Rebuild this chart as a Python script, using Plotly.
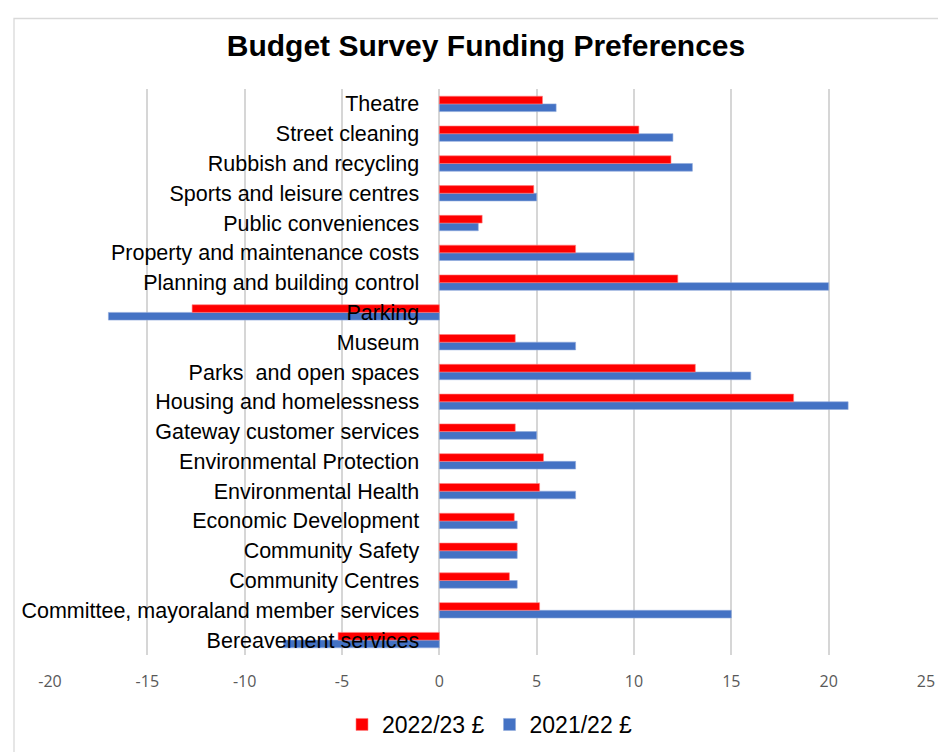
import plotly.graph_objects as go

categories = [
    "Bereavement services",
    "Committee, mayoraland member services",
    "Community Centres",
    "Community Safety",
    "Economic Development",
    "Environmental Health",
    "Environmental Protection",
    "Gateway customer services",
    "Housing and homelessness",
    "Parks  and open spaces",
    "Museum",
    "Parking",
    "Planning and building control",
    "Property and maintenance costs",
    "Public conveniences",
    "Sports and leisure centres",
    "Rubbish and recycling",
    "Street cleaning",
    "Theatre",
]
values_2022_23 = [-5.2, 5.15, 3.6, 4.0, 3.85, 5.15, 5.35, 3.9, 18.2, 13.15,
                  3.9, -12.7, 12.25, 7.0, 2.2, 4.85, 11.9, 10.25, 5.3]
values_2021_22 = [-8, 15, 4, 4, 4, 7, 7, 5, 21, 16,
                  7, -17, 20, 10, 2, 5, 13, 12, 6]
x_ticks = [-20, -15, -10, -5, 0, 5, 10, 15, 20, 25]
x_tick_labels = ["-20", "-15", "-10", "-5", "0", "5", "10", "15", "20", "25"]

RED = "#FF0000"
BLUE = "#4472C4"

fig = go.Figure()
fig.add_trace(go.Bar(
    y=categories, x=values_2021_22, orientation="h", name="2021/22 £",
    marker=dict(color=BLUE, line=dict(color="#8EA9DB", width=0.6)),
    legendrank=2,
))
fig.add_trace(go.Bar(
    y=categories, x=values_2022_23, orientation="h", name="2022/23 £",
    marker=dict(color=RED, line=dict(color="#FF7F7F", width=0.6)),
    legendrank=1,
))

L, R, T, B = 50, 12, 88.6, 96.6
W, H = 938, 752
pw = W - L - R
ph = H - T - B

def px_to_paper_x(px):
    return (px - L) / pw

def px_to_paper_y(py):
    return (H - B - py) / ph

fig.update_layout(
    width=W, height=H,
    margin=dict(l=L, r=R, t=T, b=B, autoexpand=False),
    paper_bgcolor="white", plot_bgcolor="white",
    barmode="group", bargap=0.484, bargroupgap=0,
    title=dict(text="<b>Budget Survey Funding Preferences</b>",
               font=dict(family="Liberation Sans, Arial", size=30, color="black"),
               x=px_to_paper_x(486), xref="paper", y=1 - 45 / H, yanchor="middle",
               xanchor="center"),
    font=dict(family="Liberation Sans, Arial", color="black"),
    legend=dict(orientation="h", x=px_to_paper_x(490), xanchor="center",
                y=px_to_paper_y(725), yanchor="middle",
                font=dict(family="Liberation Sans, Arial", size=23, color="black"),
                itemwidth=30, traceorder="normal"),
    xaxis=dict(range=[-20, 25], tickvals=x_ticks, ticktext=x_tick_labels, showgrid=True,
               gridcolor="#D6D6D6", gridwidth=1.6, zeroline=True,
               zerolinecolor="#D6D6D6", zerolinewidth=1.6, showline=False,
               ticks="", tickfont=dict(family="Open Sans", size=16, color="#595959"),
               ticklabelstandoff=15, automargin=False, fixedrange=True),
    yaxis=dict(type="category", categoryorder="array", categoryarray=categories,
               anchor="free", position=px_to_paper_x(439.3), side="left",
               showgrid=False, zeroline=False, showline=False, ticks="",
               tickfont=dict(family="Liberation Sans, Arial", size=21.5, color="black"),
               ticklabelstandoff=20, automargin=False, fixedrange=True),
    shapes=[dict(type="rect", xref="paper", yref="paper",
                 x0=px_to_paper_x(14), x1=px_to_paper_x(960),
                 y0=px_to_paper_y(780), y1=px_to_paper_y(18),
                 line=dict(color="#D9D9D9", width=1.3), fillcolor="rgba(0,0,0,0)",
                 layer="below")],
)

fig.write_html(
    "out.html",
    config={"displayModeBar": False},
    post_script="document.body.style.margin='0px';document.body.style.overflow='hidden';",
)
